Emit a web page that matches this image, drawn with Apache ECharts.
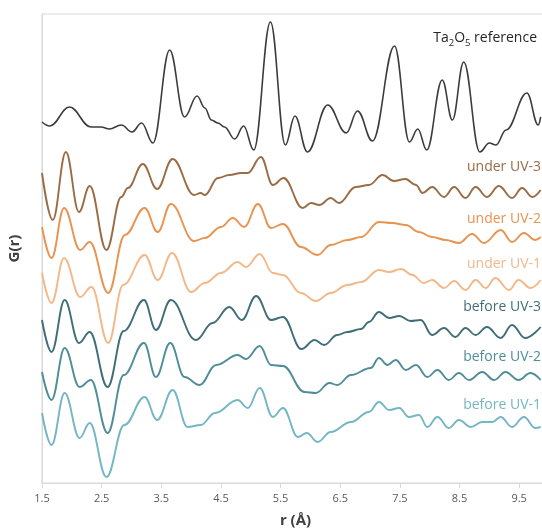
<!DOCTYPE html>
<html>
<head>
<meta charset="utf-8">
<script src="https://cdn.jsdelivr.net/npm/echarts@6/dist/echarts.min.js"></script>
<style>
html,body{margin:0;padding:0;background:#fff;}
#c{width:542px;height:530px;}
</style>
</head>
<body>
<div id="c"></div>
<script>
// r (Å) values and stacked G(r) values (arbitrary units, offsets included)
const reference = [[1.50,36.1],[1.63,35.7],[1.96,37.6],[2.32,35.6],[2.49,35.6],[2.63,35.4],[2.83,35.8],[3.01,35.1],[3.17,36.0],[3.36,34.0],[3.64,43.3],[3.89,36.6],[4.10,38.7],[4.23,37.5],[4.34,36.3],[4.45,36.0],[4.56,35.6],[4.73,34.4],[4.88,35.7],[5.05,33.3],[5.33,46.1],[5.58,33.8],[5.74,36.7],[5.95,33.1],[6.29,37.8],[6.60,35.0],[6.79,37.2],[7.04,34.2],[7.41,43.7],[7.66,34.1],[7.80,35.4],[7.95,33.3],[8.21,40.3],[8.38,36.3],[8.57,42.1],[8.84,33.1],[9.00,34.0],[9.11,33.8],[9.28,35.3],[9.63,39.0],[9.82,35.8],[9.86,36.6]];
const underUV3 = [[1.50,31.0],[1.68,26.3],[1.90,33.1],[2.12,27.1],[2.30,29.7],[2.58,23.3],[2.83,28.6],[2.94,29.5],[3.19,31.9],[3.43,29.4],[3.69,32.4],[4.05,28.8],[4.16,29.0],[4.23,28.8],[4.45,30.5],[4.64,30.8],[4.84,31.0],[4.95,31.0],[5.17,32.6],[5.37,29.8],[5.55,30.5],[5.87,27.5],[6.01,28.0],[6.15,27.8],[6.34,28.5],[6.48,28.0],[6.76,29.6],[6.98,29.8],[7.21,30.8],[7.40,30.2],[7.59,30.4],[7.77,29.8],[7.88,29.0],[8.04,29.6],[8.24,28.6],[8.41,29.6],[8.60,28.5],[8.77,29.6],[8.96,28.6],[9.16,29.7],[9.38,28.5],[9.55,29.5],[9.72,28.6],[9.86,29.3]];
const underUV2 = [[1.50,25.6],[1.66,22.5],[1.87,27.5],[2.14,23.3],[2.30,24.1],[2.61,19.0],[2.89,24.8],[3.22,27.5],[3.44,25.1],[3.66,27.9],[4.05,24.2],[4.23,24.5],[4.50,25.6],[4.70,26.5],[4.89,25.6],[5.12,27.9],[5.34,25.5],[5.54,25.9],[5.84,23.6],[6.12,22.8],[6.34,23.8],[6.62,24.3],[6.85,24.6],[7.15,26.1],[7.37,26.0],[7.60,25.8],[7.82,25.1],[8.04,24.6],[8.27,24.3],[8.49,24.0],[8.71,24.9],[8.91,24.0],[9.19,25.3],[9.38,24.1],[9.58,25.0],[9.77,24.3],[9.86,24.6]];
const underUV1 = [[1.50,21.0],[1.66,18.0],[1.87,22.5],[2.14,18.6],[2.33,19.6],[2.61,14.0],[2.86,19.8],[3.22,22.8],[3.44,20.3],[3.68,23.0],[4.00,19.1],[4.23,20.0],[4.50,21.0],[4.78,22.1],[4.92,21.6],[5.15,22.9],[5.37,21.0],[5.54,20.8],[5.84,19.0],[6.09,18.2],[6.34,19.0],[6.62,19.8],[6.85,20.1],[7.15,21.3],[7.32,21.1],[7.52,21.4],[7.71,20.8],[7.90,20.0],[8.04,20.3],[8.24,19.5],[8.41,20.2],[8.60,19.3],[8.77,20.3],[8.94,19.5],[9.10,20.5],[9.33,19.3],[9.49,20.3],[9.69,19.5],[9.86,20.3]];
const beforeUV3 = [[1.50,16.3],[1.66,13.1],[1.88,18.3],[2.12,14.0],[2.30,15.1],[2.60,9.6],[2.87,15.2],[3.21,18.3],[3.41,15.3],[3.66,18.3],[4.08,14.3],[4.36,16.0],[4.64,17.6],[4.85,16.3],[5.09,18.7],[5.34,16.3],[5.54,16.6],[5.85,13.4],[6.07,14.3],[6.23,13.8],[6.45,14.8],[6.62,15.1],[6.85,15.4],[6.98,16.1],[7.15,17.1],[7.32,16.5],[7.49,16.7],[7.68,16.2],[7.85,16.3],[8.04,14.8],[8.24,15.5],[8.43,14.6],[8.60,15.5],[8.77,14.8],[8.96,15.6],[9.19,14.5],[9.38,15.8],[9.60,14.5],[9.86,15.6]];
const beforeUV2 = [[1.50,11.1],[1.66,8.3],[1.88,13.5],[2.13,9.6],[2.32,10.3],[2.60,5.0],[2.87,10.8],[3.21,14.0],[3.41,10.6],[3.65,14.0],[3.89,10.6],[4.14,9.8],[4.42,11.8],[4.78,12.8],[4.92,12.4],[5.15,13.7],[5.34,11.8],[5.54,11.7],[5.90,9.1],[6.09,9.0],[6.32,10.0],[6.45,9.8],[6.68,10.8],[7.01,11.5],[7.15,12.5],[7.29,11.8],[7.43,12.3],[7.60,11.3],[7.77,11.8],[7.96,10.6],[8.13,11.3],[8.32,10.3],[8.49,11.0],[8.66,10.3],[8.88,11.1],[9.08,10.3],[9.27,11.1],[9.49,10.3],[9.69,11.0],[9.86,10.3]];
const beforeUV1 = [[1.50,7.0],[1.66,3.8],[1.88,9.0],[2.13,4.5],[2.30,6.0],[2.58,0.6],[2.88,5.8],[3.22,8.6],[3.43,6.3],[3.69,9.3],[3.94,5.6],[4.16,5.8],[4.40,7.0],[4.78,8.3],[4.95,7.5],[5.15,9.5],[5.37,6.6],[5.54,7.5],[5.79,4.6],[5.94,5.0],[6.12,4.1],[6.34,5.1],[6.68,6.1],[6.98,7.1],[7.15,8.1],[7.32,7.3],[7.49,7.5],[7.65,6.6],[7.82,6.8],[7.96,5.6],[8.13,6.6],[8.32,5.5],[8.49,6.3],[8.69,5.6],[8.88,6.1],[9.05,6.1],[9.19,6.6],[9.38,5.6],[9.58,6.6],[9.77,5.5],[9.86,5.6]];

const seriesNames = ['Ta2O5 reference','under UV-3','under UV-2','under UV-1','before UV-3','before UV-2','before UV-1'];
const seriesData = [reference, underUV3, underUV2, underUV1, beforeUV3, beforeUV2, beforeUV1];
const seriesColors = ['#3c3c3c','#9a6c45','#e8934f','#f3b889','#3f6e77','#4f8d99','#74b6c3'];
const labelTops = [31, 160, 212, 257, 300, 350, 398];

const chart = echarts.init(document.getElementById('c'), null, {renderer:'canvas'});
const FONT = '"Open Sans", "DejaVu Sans", sans-serif';

const series = seriesData.map((d, i) => ({
  name: seriesNames[i],
  type: 'line',
  data: d,
  smooth: 0.4,
  smoothMonotone: 'x',
  showSymbol: false,
  symbol: 'none',
  lineStyle: {color: seriesColors[i], width: i === 0 ? 1.6 : 1.9},
  itemStyle: {color: seriesColors[i]},
  emphasis: {disabled: true},
  silent: true,
  z: 10 - i
}));

const graphics = seriesNames.map((n, i) => {
  if (i === 0) {
    return {
      type: 'text', right: 5, top: labelTops[i],
      style: {
        text: '{a|Ta}{s|2}{a|O}{s|5}{a| reference}',
        rich: {
          a: {fontSize: 14, fontFamily: FONT, fill: '#262626', lineHeight: 21, verticalAlign: 'middle'},
          s: {fontSize: 9.5, fontFamily: FONT, fill: '#262626', lineHeight: 9, verticalAlign: 'bottom'}
        }
      }
    };
  }
  return {
    type: 'text', right: 1, top: labelTops[i],
    style: {text: n, fill: seriesColors[i], font: '14px ' + FONT}
  };
});

chart.setOption({
  animation: false,
  backgroundColor: '#ffffff',
  grid: {left: 42, right: -7, top: 14, bottom: 47, show: true, borderColor: '#d9d9d9', borderWidth: 1, containLabel: false, outerBoundsMode: 'none'},
  xAxis: {
    type: 'value', min: 1.5, max: 10, interval: 1,
    name: 'r (Å)', nameLocation: 'middle', nameGap: 30,
    nameTextStyle: {fontFamily: FONT, fontWeight: 'bold', fontSize: 15, color: '#404040'},
    axisLine: {show: true, lineStyle: {color: '#d9d9d9', width: 1}},
    axisTick: {show: true, length: 5, lineStyle: {color: '#d9d9d9'}},
    axisLabel: {show: true, showMaxLabel: false, showMinLabel: true, fontFamily: FONT, fontSize: 11, color: '#595959', margin: 10,
      formatter: v => v.toFixed(1)},
    splitLine: {show: false}
  },
  yAxis: {
    type: 'value', min: 0, max: 46.9,
    name: 'G(r)', nameLocation: 'middle', nameGap: 20,
    nameTextStyle: {fontFamily: FONT, fontWeight: 'bold', fontSize: 15, color: '#404040'},
    axisLine: {show: true, lineStyle: {color: '#d9d9d9', width: 1}},
    axisTick: {show: false},
    axisLabel: {show: false},
    splitLine: {show: false}
  },
  series: series,
  graphic: graphics
});
</script>
</body>
</html>
